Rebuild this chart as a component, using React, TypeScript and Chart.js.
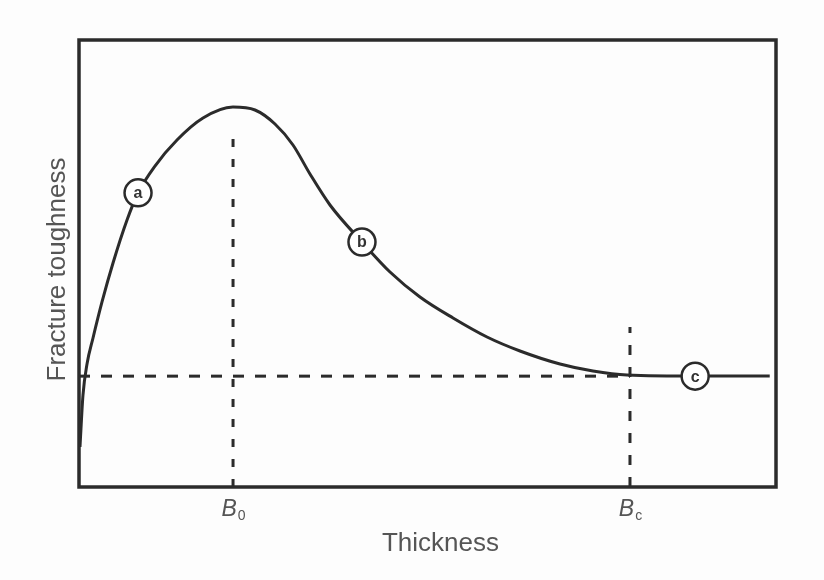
import React, { useEffect, useRef } from "react";
import { Chart, registerables } from "chart.js";

Chart.register(...registerables);

// Curve: fracture toughness vs thickness (arbitrary units 0-100)
const curveX = [0.14, 0.57, 1.15, 2.01, 3.3, 4.88, 6.89, 8.47, 10.9, 14.06, 17.79, 22.09, 25.25, 28.12, 30.7, 33.14, 36.01, 40.6, 44.62, 48.92, 53.66, 58.54, 63.27, 69.01, 73.74, 78.62, 89.1, 99.1];
const curveY = [8.95, 20.58, 27.52, 33.33, 41.39, 50.11, 59.73, 65.77, 71.81, 77.63, 82.55, 85.01, 84.34, 81.21, 76.51, 70.02, 63.09, 54.81, 48.1, 42.51, 37.81, 33.56, 30.43, 27.52, 25.95, 25.06, 24.83, 24.83];

// Reference thicknesses and plateau level
const tickValues = [22.1, 79.05];
const tickLabels = [["B", "0"], ["B", "c"]];
const plateauY = 24.8;
const b0Top = 80.5;
const bcTop = 35.8;

// Region markers
const regionLabels = ["a", "b", "c"];
const regionX = [8.47, 40.6, 88.4];
const regionY = [65.8, 54.8, 24.8];

const xTitle = "Thickness";
const yTitle = "Fracture toughness";

const INK = "#2b2b2b";
const TEXT = "#555555";

export default function App() {
  const ref = useRef<HTMLCanvasElement | null>(null);

  useEffect(() => {
    if (!ref.current) return;

    const decor = {
      id: "decor",
      afterDatasetsDraw(chart: any) {
        const { ctx, chartArea: ca, scales } = chart;
        ctx.save();
        // frame
        ctx.strokeStyle = INK;
        ctx.lineWidth = 3.5;
        ctx.setLineDash([]);
        ctx.strokeRect(ca.left, ca.top, ca.right - ca.left, ca.bottom - ca.top);

        // letters in circles
        const meta = chart.getDatasetMeta(3);
        ctx.fillStyle = "#333";
        ctx.font = "bold 16px 'Liberation Sans', Arial, sans-serif";
        ctx.textAlign = "center";
        ctx.textBaseline = "middle";
        meta.data.forEach((pt: any, i: number) => {
          ctx.fillText(regionLabels[i], pt.x, pt.y + 1);
        });

        // tick labels
        ctx.fillStyle = TEXT;
        tickValues.forEach((v, i) => {
          const px = scales.x.getPixelForValue(v);
          const [main, sub] = tickLabels[i];
          ctx.font = "italic 23px 'Liberation Sans', Arial, sans-serif";
          const wMain = ctx.measureText(main).width;
          ctx.font = "14px 'Liberation Sans', Arial, sans-serif";
          const wSub = ctx.measureText(sub).width;
          const start = px - (wMain + wSub) / 2;
          ctx.textAlign = "left";
          ctx.textBaseline = "alphabetic";
          ctx.font = "italic 23px 'Liberation Sans', Arial, sans-serif";
          ctx.fillText(main, start, ca.bottom + 29);
          ctx.font = "14px 'Liberation Sans', Arial, sans-serif";
          ctx.fillText(sub, start + wMain + 1, ca.bottom + 33);
        });

        // axis titles
        ctx.font = "26px 'Liberation Sans', Arial, sans-serif";
        ctx.textAlign = "center";
        ctx.textBaseline = "middle";
        ctx.fillText(xTitle, (ca.left + ca.right) / 2 + 13, ca.bottom + 57);
        ctx.translate(ca.left - 21, (ca.top + ca.bottom) / 2 + 6);
        ctx.rotate(-Math.PI / 2);
        ctx.fillText(yTitle, 0, 0);
        ctx.restore();
      },
    };

    const chart = new Chart(ref.current, {
      type: "line",
      data: {
        datasets: [
          {
            data: curveX.map((x, i) => ({ x, y: curveY[i] })),
            borderColor: INK,
            borderWidth: 3,
            pointRadius: 0,
            cubicInterpolationMode: "monotone",
            fill: false,
            order: 1,
          },
          {
            data: [{ x: 0, y: plateauY }, { x: tickValues[1], y: plateauY }],
            borderColor: INK,
            borderWidth: 3,
            borderDash: [11, 11],
            pointRadius: 0,
            fill: false,
            order: 2,
          },
          {
            data: [{ x: tickValues[0], y: 0 }, { x: tickValues[0], y: b0Top }],
            borderColor: INK,
            borderWidth: 3,
            borderDash: [8, 12],
            pointRadius: 0,
            fill: false,
            order: 2,
          },
          {
            type: "scatter",
            data: regionX.map((x, i) => ({ x, y: regionY[i] })),
            pointRadius: 13.5,
            pointBackgroundColor: "#ffffff",
            pointBorderColor: INK,
            pointBorderWidth: 2.5,
            order: 0,
          },
          {
            data: [{ x: tickValues[1], y: 0 }, { x: tickValues[1], y: bcTop }],
            borderColor: INK,
            borderWidth: 3,
            borderDash: [10, 12],
            pointRadius: 0,
            fill: false,
            order: 2,
          },
        ] as any,
      },
      options: {
        animation: false,
        responsive: true,
        maintainAspectRatio: false,
        layout: { padding: { left: 79, top: 40, right: 48, bottom: 93 } },
        plugins: { legend: { display: false }, tooltip: { enabled: false } },
        scales: {
          x: { type: "linear", min: 0, max: 100, display: false },
          y: { type: "linear", min: 0, max: 100, display: false },
        },
      },
      plugins: [decor],
    } as any);

    return () => chart.destroy();
  }, []);

  return (
    <div style={{ position: "absolute", left: 0, top: 0, width: 824, height: 580, background: "#fdfdfd" }}>
      <canvas ref={ref} />
    </div>
  );
}
